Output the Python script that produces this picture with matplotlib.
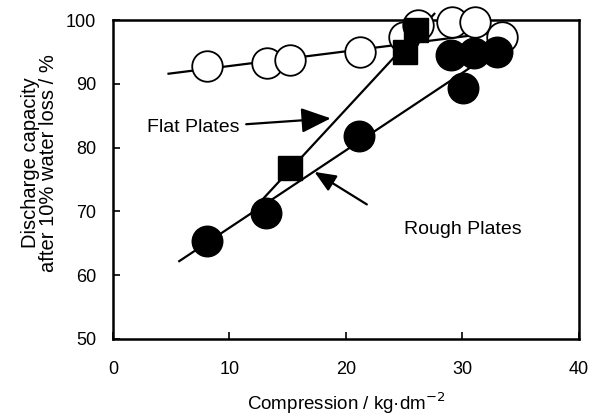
import matplotlib
matplotlib.use("Agg")
import matplotlib.pyplot as plt

plt.rcParams['font.family'] = ['Liberation Sans', 'DejaVu Sans']

# Data
open_x = [8.1, 13.2, 15.2, 21.2, 25.0, 26.2, 29.1, 31.1, 33.4]
open_y = [92.8, 93.3, 93.7, 95.0, 97.4, 99.2, 99.7, 99.7, 97.4]

rough_x = [8.1, 13.1, 21.1, 29.05, 30.1, 31.0, 33.0]
rough_y = [65.4, 69.7, 81.9, 94.5, 89.3, 94.8, 95.0]

flat_x = [15.2, 25.1, 26.0]
flat_y = [76.8, 95.0, 98.4]

open_line_x = [4.77, 33.4]
open_line_y = [91.6, 98.2]
flat_line_x = [12.8, 27.6]
flat_line_y = [71.8, 101.0]
rough_line_x = [5.69, 30.8]
rough_line_y = [62.2, 92.7]

xticks = [0, 10, 20, 30, 40]
yticks = [50, 60, 70, 80, 90, 100]

fig = plt.figure(figsize=(6.01, 4.2), dpi=100)
ax = fig.add_axes([0.188, 0.193, 0.775, 0.759])

ax.plot(open_line_x, open_line_y, color='black', lw=1.6, clip_on=False, zorder=2)
ax.plot(flat_line_x, flat_line_y, color='black', lw=1.6, clip_on=False, zorder=2)
ax.plot(rough_line_x, rough_line_y, color='black', lw=1.6, clip_on=False, zorder=2)

ax.plot(open_x, open_y, 'o', ms=22, mfc='white', mec='black', mew=1.3, clip_on=False, zorder=3)
ax.plot(rough_x, rough_y, 'o', ms=22, mfc='black', mec='black', clip_on=False, zorder=4)
ax.plot(flat_x, flat_y, 's', ms=17, mfc='black', mec='black', clip_on=False, zorder=5)

ax.set_xlim(0, 40)
ax.set_ylim(50, 100)
ax.set_xticks(xticks)
ax.set_yticks(yticks)
ax.tick_params(direction='in', length=5, width=1.2, labelsize=13)
ax.tick_params(axis='x', pad=16)
ax.tick_params(axis='y', pad=12)
for s in ax.spines.values():
    s.set_linewidth(1.8)

ax.set_xlabel('Compression / kg\u00b7dm$^{\\mathsf{-2}}$', fontsize=13.5, labelpad=9)
ax.set_ylabel('Discharge capacity\nafter 10% water loss / %', fontsize=14.5,
              linespacing=0.9)
ax.yaxis.set_label_coords(-0.119, 0.552)

ax.annotate('Flat Plates', xy=(18.7, 84.6), xytext=(2.9, 83.1),
            fontsize=14, ha='left', va='center',
            arrowprops=dict(arrowstyle='-|>,head_length=1.3,head_width=0.55',
                            color='black', lw=1.6, shrinkA=3, shrinkB=0))
ax.annotate('', xy=(17.3, 76.2), xytext=(21.8, 71.1),
            arrowprops=dict(arrowstyle='-|>,head_length=1.3,head_width=0.55',
                            color='black', lw=1.6, shrinkA=0, shrinkB=0))
ax.text(25.0, 67.2, 'Rough Plates', fontsize=14, ha='left', va='center')

fig.savefig('out.png', dpi=100)
